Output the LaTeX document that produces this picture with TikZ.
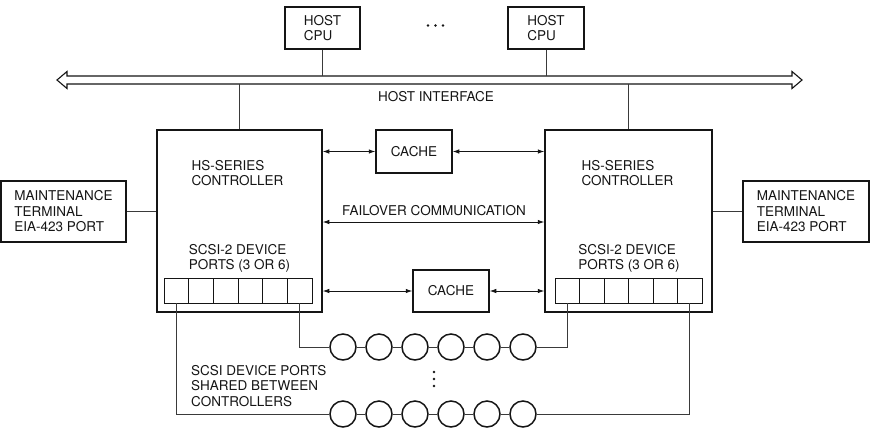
\documentclass[tikz,border=0pt]{standalone}
\usepackage{fontspec}
\setmainfont{TeX Gyre Heros}
\usetikzlibrary{arrows.meta,positioning,calc}
\definecolor{hsInk}{HTML}{151515}
\definecolor{hsWire}{HTML}{3A3A3A}
\tikzset{
    >={Latex[length=6.5pt,width=4.5pt]},
    every picture/.style={font=\fontsize{13.5}{15.5}\selectfont},
    unit/.style={draw=hsInk, line width=1.5pt, inner sep=0pt, align=left, text=hsInk},
    txt/.style={inner sep=0pt, align=left, text=hsInk},
    cell/.style={draw=hsInk, line width=0.8pt, minimum width=24.6pt, minimum height=25pt, inner sep=0pt},
    disk/.style={circle, draw=hsInk, line width=1.5pt, minimum size=26pt, inner sep=0pt},
    wire/.style={draw=hsWire, line width=0.8pt},
    arrow/.style={<->, line width=0.8pt, draw=hsInk}
}
\begin{document}
\begin{tikzpicture}[x=1pt, y=-1pt]
\useasboundingbox (0,0) rectangle (877,440);
\fill[white] (0,0) rectangle (877,440);
% host side
\node[unit, minimum width=75pt, minimum height=42pt] (cpul) at (322.5,28) {HOST\\CPU};
\node[unit, minimum width=76pt, minimum height=42pt] (cpur) at (546,28) {HOST\\CPU};
\foreach \x in {428,435.5,443} \fill[hsInk] (\x,25.5) circle (1.4pt);
\draw[hsInk, line width=1.1pt] (57,80) -- (67,71.5) -- (67,76) -- (792,76) -- (792,71.5) -- (802,80) -- (792,88.5) -- (792,84) -- (67,84) -- (67,88.5) -- cycle;
\coordinate (bust) at (430,76); \coordinate (busb) at (430,84);
\node[txt] (hif) at (436,97) {HOST INTERFACE};
\draw[wire] (cpul) -- (cpul |- bust); \draw[wire] (cpur) -- (cpur |- bust);
% controllers
\node[unit, minimum width=165pt, minimum height=182pt] (ctrll) at (239.5,221) {};
\node[unit, minimum width=167pt, minimum height=182pt] (ctrlr) at (628.5,221) {};
\node[txt] (namel) at (237.5,173) {HS-SERIES\\CONTROLLER};
\node[txt] (namer) at (627.5,173) {HS-SERIES\\CONTROLLER};
\node[txt] (portl) at (239.5,258.5) {SCSI-2 DEVICE\\PORTS (3 OR 6)};
\node[txt] (portr) at (629,258.5) {SCSI-2 DEVICE\\PORTS (3 OR 6)};
\draw[wire] (ctrll.north) -- (ctrll.north |- busb); \draw[wire] (ctrlr.north) -- (ctrlr.north |- busb);
% maintenance terminals
\node[unit, minimum width=125pt, minimum height=61pt] (mtl) at (63.5,211.5) {MAINTENANCE\\TERMINAL\\EIA-423 PORT};
\node[unit, minimum width=126pt, minimum height=61pt] (mtr) at (806,211.5) {MAINTENANCE\\TERMINAL\\EIA-423 PORT};
\draw[wire] (mtl.east) -- (mtl.east -| ctrll.west); \draw[wire] (mtr.west) -- (mtr.west -| ctrlr.east);
% caches and failover
\node[unit, minimum width=76pt, minimum height=43pt] (cacheu) at (414,151.5) {CACHE};
\node[unit, minimum width=76pt, minimum height=42pt] (cached) at (451,291) {CACHE};
\draw[arrow] (ctrll.east |- cacheu) -- (cacheu.west); \draw[arrow] (cacheu.east) -- (cacheu.east -| ctrlr.west);
\draw[arrow] (ctrll.east |- cached) -- (cached.west); \draw[arrow] (cached.east) -- (cached.east -| ctrlr.west);
\coordinate (fo) at (434,222);
\node[txt] (fotxt) at (434,211) {FAILOVER COMMUNICATION};
\draw[arrow] (fo -| ctrll.east) -- (fo -| ctrlr.west);
% device ports and shared buses
\foreach \i in {1,...,6} {
  \node[cell] (pl\i) at ({164+24.67*(\i-0.5)},290.5) {};
  \node[cell] (pr\i) at ({555+24.5*(\i-0.5)},290.5) {};
  \node[disk] (a\i) at ({343+36*(\i-1)},347) {};
  \node[disk] (b\i) at ({343+36*(\i-1)},414) {};
}
\foreach \i [count=\j from 2] in {1,...,5} {\draw[wire] (a\i) -- (a\j); \draw[wire] (b\i) -- (b\j);}
\draw[wire] (pl6.south) |- (a1.west); \draw[wire] (pl1.south) |- (b1.west);
\draw[wire] (pr1.south) |- (a6.east); \draw[wire] (pr6.south) |- (b6.east);
\foreach \y in {372,379,386} \fill[hsInk] (434,\y) circle (1.4pt);
\node[txt, anchor=west] (shared) at (191,386) {SCSI DEVICE PORTS\\SHARED BETWEEN\\CONTROLLERS};
\end{tikzpicture}
\end{document}
